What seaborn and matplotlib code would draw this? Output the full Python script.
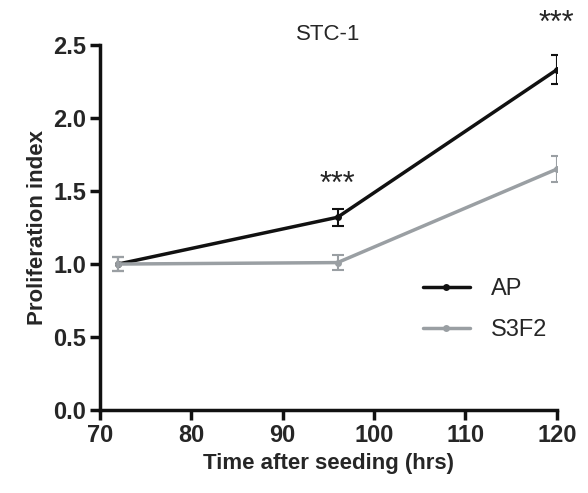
import matplotlib
matplotlib.use("Agg")
import matplotlib.pyplot as plt
import seaborn as sns
import pandas as pd

# Data
hours = [72, 96, 120]
ap_mean = [1.00, 1.32, 2.33]
ap_err = [0.05, 0.06, 0.10]
s3f2_mean = [1.00, 1.01, 1.65]
s3f2_err = [0.05, 0.05, 0.09]
groups = ["AP", "S3F2"]
colors = ["#111111", "#9a9fa3"]

df = pd.DataFrame({
    "Time": hours * 2,
    "Index": ap_mean + s3f2_mean,
    "Err": ap_err + s3f2_err,
    "Group": [groups[0]] * 3 + [groups[1]] * 3,
})

sns.set_style("ticks")
plt.rcParams['font.family'] = ['Liberation Sans', 'DejaVu Sans']

fig = plt.figure(figsize=(5.88, 4.93), dpi=100)
ax = fig.add_axes([0.170, 0.168, 0.777, 0.741])

sns.lineplot(data=df, x="Time", y="Index", hue="Group", hue_order=groups,
             palette=colors, marker="o", markersize=5, markeredgewidth=0,
             linewidth=2.5, ax=ax)

for g, c in zip(groups, colors):
    sub = df[df["Group"] == g]
    ax.errorbar(sub["Time"], sub["Index"], yerr=sub["Err"], fmt="none",
                ecolor=c, elinewidth=1.5, capsize=4, capthick=1.5)

# Significance stars
ax.text(96, 1.54, "***", ha="center", va="center", fontsize=22)
ax.text(120, 2.64, "***", ha="center", va="center", fontsize=22, clip_on=False)

ax.set_xlim(70, 120)
ax.set_ylim(0, 2.5)
ax.set_xticks([70, 80, 90, 100, 110, 120])
ax.set_yticks([0.0, 0.5, 1.0, 1.5, 2.0, 2.5])
ax.set_yticklabels(["0.0", "0.5", "1.0", "1.5", "2.0", "2.5"])

for t in ax.get_xticklabels() + ax.get_yticklabels():
    t.set_fontweight("bold")
    t.set_fontsize(17)

ax.tick_params(width=2.5, length=7, color="#111111", pad=3)
for s in ["left", "bottom"]:
    ax.spines[s].set_linewidth(2.5)
    ax.spines[s].set_color("#111111")
sns.despine(ax=ax)

ax.set_title("STC-1", fontsize=16, pad=2)
ax.set_xlabel("Time after seeding (hrs)", fontsize=16, fontweight="bold", labelpad=4)
ax.set_ylabel("Proliferation index", fontsize=16, fontweight="bold")

ax.legend(title=None, frameon=False, fontsize=17, loc="center left",
          bbox_to_anchor=(0.66, 0.275), handlelength=2.0, labelspacing=0.8,
          handletextpad=0.9)

fig.savefig("out.png", dpi=100)
